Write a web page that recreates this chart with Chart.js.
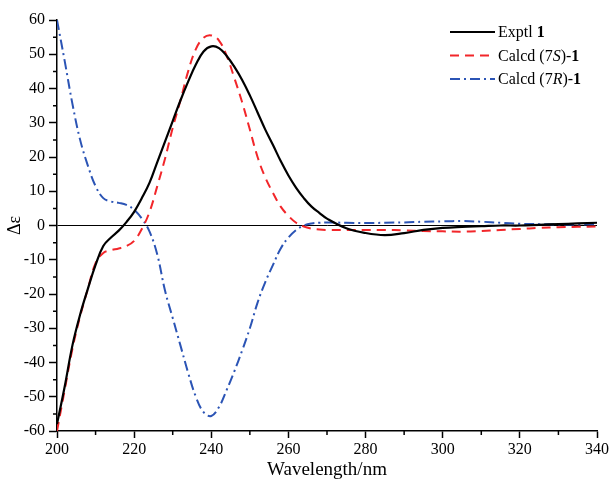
<!DOCTYPE html>
<html>
<head>
<meta charset="utf-8">
<script src="https://cdn.jsdelivr.net/npm/chart.js@4.4.1/dist/chart.umd.min.js"></script>
<style>
html,body{margin:0;padding:0;background:#fff}
#wrap{width:611px;height:481px;position:relative}
</style>
</head>
<body>
<div id="wrap"><canvas id="cd"></canvas></div>
<script>
// wavelengths (nm) shared by all three curves
const wavelength = [200,202,204,206,208,210,212,214,216,218,220,222,224,226,228,230,232,234,236,238,240,
  242,244,246,248,250,252,254,256,258,260,262,264,266,268,270,275,280,285,290,295,300,305,310,315,320,325,330,335,340]

const exptl = [-58,-47,-35,-26,-18.5,-11.5,-6,-3.5,-1.5,1,4,8,12.5,18.5,24.5,30.5,36.5,42,47,50.8,52.3,
  51.8,49.5,46.3,42.5,38,33,28,23.5,18.8,14.6,11,8,5.5,3.7,2,-0.8,-2.2,-2.8,-2.2,-1.3,-0.7,-0.4,-0.2,0,0,0.2,0.4,0.6,0.8]

const calcd7S = [-60,-48,-36,-26.5,-18.5,-11,-8,-7.2,-6.7,-6,-4.5,-1,4,11.5,19.5,28.5,36.5,45,51.5,54.8,55.5,
  54,49.5,43,36,28,20,14,9.5,5.5,2.8,0.8,-0.3,-0.9,-1.2,-1.3,-1.3,-1.3,-1.3,-1.4,-1.6,-1.7,-1.8,-1.6,-1.3,-1,-0.7,-0.5,-0.4,-0.3]

const calcd7R = [60,48,35.5,25,17.5,11.5,8,7,6.6,6,4.6,2,-1.8,-8.5,-19,-27,-35,-43,-50,-54.5,-55.6,
  -53,-48,-42.5,-36.5,-30,-22.5,-16.5,-11.5,-6.7,-3.5,-1.3,0,0.6,0.8,0.9,0.8,0.7,0.8,0.9,1.1,1.2,1.3,1.1,0.8,0.5,0.4,0.3,0.3,0.4]

// legend text pieces: [text, style]
const legendExptl = [['Exptl ',''],['1','bold']]
const legend7S = [['Calcd (7',''],['S','italic'],[')-',''],['1','bold']]
const legend7R = [['Calcd (7',''],['R','italic'],[')-',''],['1','bold']]

const xMinor = [210,230,250,270,290,310,330]
const yMinor = [-55,-45,-35,-25,-15,-5,5,15,25,35,45,55]

const serif = "'Liberation Serif', 'Times New Roman', serif"

function pts(ys){
    return wavelength.map((x,i) => ({x:x, y:ys[i]}))
}

const minorTicks = {
    id:'minorTicks',
    afterDraw(chart){
        const ctx = chart.ctx
        const xs = chart.scales.x, ys = chart.scales.y
        ctx.save()
        ctx.strokeStyle = '#000'
        ctx.lineWidth = 1.5
        ctx.beginPath()
        xMinor.forEach(v => {
            const px = xs.getPixelForValue(v)
            ctx.moveTo(px, xs.top)
            ctx.lineTo(px, xs.top + 4)
        })
        yMinor.forEach(v => {
            const py = ys.getPixelForValue(v)
            ctx.moveTo(ys.right, py)
            ctx.lineTo(ys.right - 4, py)
        })
        ctx.stroke()
        ctx.restore()
    }
}

const richLegend = {
    id:'richLegend',
    afterDraw(chart){
        const ctx = chart.ctx
        const items = [legendExptl, legend7S, legend7R]
        ctx.save()
        items.forEach((parts,i) => {
            const ds = chart.data.datasets[i]
            const y = 32 + i*23.5
            ctx.strokeStyle = ds.borderColor
            ctx.lineWidth = 2
            ctx.setLineDash(ds.borderDash || [])
            ctx.beginPath()
            ctx.moveTo(450, y)
            ctx.lineTo(495, y)
            ctx.stroke()
            ctx.setLineDash([])
            let x = 498
            ctx.fillStyle = '#000'
            ctx.textBaseline = 'middle'
            parts.forEach(p => {
                ctx.font = (p[1] ? p[1] + ' ' : '') + '16px ' + serif
                ctx.fillText(p[0], x, y + 1)
                x += ctx.measureText(p[0]).width
            })
        })
        ctx.restore()
    }
}

new Chart(document.getElementById('cd'), {
    type:'line',
    data:{
        datasets:[
            {label:'Exptl 1', data:pts(exptl), borderColor:'#000000', borderWidth:2.2},
            {label:'Calcd (7S)-1', data:pts(calcd7S), borderColor:'#f2262a', borderWidth:2, borderDash:[9,6]},
            {label:'Calcd (7R)-1', data:pts(calcd7R), borderColor:'#2b54b5', borderWidth:2, borderDash:[10,4,2,4]}
        ]
    },
    options:{
        responsive:true,
        maintainAspectRatio:false,
        animation:false,
        layout:{padding:{top:20, right:13, left:0, bottom:0}},
        elements:{point:{radius:0}, line:{tension:0.4, fill:false}},
        plugins:{legend:{display:false}, tooltip:{enabled:false}},
        scales:{
            x:{
                type:'linear', min:200, max:340,
                ticks:{stepSize:20, color:'#000', font:{family:serif, size:16}, padding:2, maxRotation:0},
                grid:{drawOnChartArea:false, tickLength:7, tickColor:'#000', tickWidth:1.5},
                border:{color:'#000', width:1.5},
                title:{display:true, text:'Wavelength/nm', color:'#000', font:{family:serif, size:19}, padding:{top:2,bottom:0}},
                afterFit(s){ s.height = 50 }
            },
            y:{
                type:'linear', min:-60, max:60,
                ticks:{stepSize:10, color:'#000', font:{family:serif, size:16}, padding:4},
                grid:{
                    drawOnChartArea:true, tickLength:8, tickColor:'#000', tickWidth:1.5, lineWidth:1,
                    color: c => (c.tick && c.tick.value === 0) ? '#000' : 'rgba(0,0,0,0)'
                },
                border:{color:'#000', width:1.5},
                title:{display:true, text:'Δε', color:'#000', font:{family:serif, size:18}, padding:{top:4,bottom:0}},
                afterFit(s){ s.width = 57 }
            }
        }
    },
    plugins:[minorTicks, richLegend]
})
</script>
</body>
</html>
